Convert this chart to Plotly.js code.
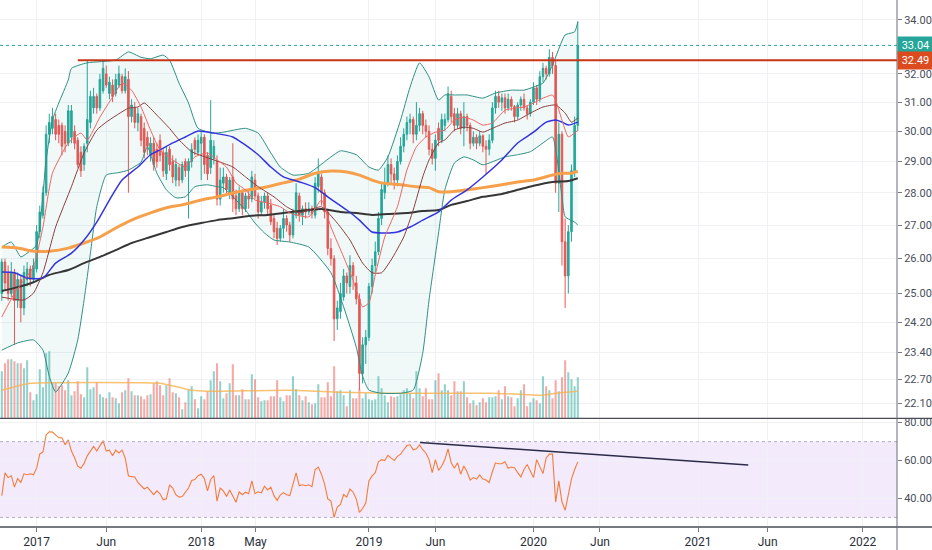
<!DOCTYPE html>
<html><head><meta charset="utf-8">
<script src="https://cdn.plot.ly/plotly-3.0.1.min.js"></script>
<style>html,body{margin:0;padding:0;background:#fff;}#chart{width:932px;height:550px;}</style>
</head><body><div id="chart"></div>
<script>
// ---- weekly bars (first bar week of 2016-10-17) ----
const startDate = '2016-10-17';
const openP = [25.0,25.9,25.6,25.0,25.6,24.8,25.4,24.6,25.4,25.7, 25.4,25.7,26.8,27.3,28.0,29.9,30.1,30.4,30.2,30.2,
 30.0,29.6,29.8,30.0,29.7,29.3,28.9,29.6,30.3,30.8, 31.2,30.8,31.4,32.0,31.3,31.6,31.3,31.6,31.9,31.4,
 31.8,30.5,30.8,30.3,30.5,30.1,29.8,29.2,29.6,29.4, 29.7,29.3,28.6,29.4,29.0,28.4,28.8,28.4,29.0,28.7,
 29.0,29.7,29.3,29.6,29.8,29.2,28.8,29.1,29.0,27.8, 28.3,28.5,28.0,28.5,27.9,27.5,28.0,27.5,27.9,27.8,
 28.4,27.9,27.4,27.7,27.9,27.6,27.2,26.9,26.6,26.9, 27.2,27.0,26.7,27.3,27.9,27.3,27.5,27.4,27.5,27.3,
 28.2,28.5,28.0,27.4,26.3,26.0,24.3,24.5,24.9,25.5, 25.2,25.8,25.3,24.85,22.85,23.6,23.8,25.2,25.8,26.2,
 27.2,28.0,28.3,28.9,28.6,28.4,29.0,29.5,29.9,30.3, 30.4,29.9,30.2,30.6,30.2,30.0,29.4,29.1,30.1,29.7,
 30.2,30.4,31.2,30.6,30.2,30.6,30.1,30.5,30.2,29.6, 29.8,29.6,29.85,29.5,29.4,29.7,30.8,31.2,31.0,31.15,
 30.8,31.1,30.85,30.5,30.9,31.1,30.8,30.6,31.0,31.5, 31.1,31.9,32.2,32.0,32.6,32.3,28.3,29.9,26.5,25.5,
 26.8,28.7,30.2];
const highP = [26.0,26.0,25.8,25.9,25.7,25.6,25.5,25.8,25.9,25.8, 26.0,27.0,27.6,28.2,30.2,30.6,30.8,30.6,30.4,30.3,
 30.2,30.9,30.9,30.2,29.8,29.5,29.6,32.5,31.4,31.5, 31.3,32.0,32.5,32.3,31.9,31.8,32.0,32.3,32.0,32.2,
 32.1,31.1,31.0,30.8,30.6,30.3,30.0,29.8,29.8,29.6, 29.9,29.4,29.5,29.5,29.2,29.1,28.9,29.0,29.1,29.1,
 29.6,29.8,29.9,30.0,29.9,29.3,31.07,29.7,29.2,28.8, 28.8,28.6,28.5,29.6,28.1,28.2,28.1,28.0,28.1,28.7,
 28.6,28.0,27.9,28.0,28.0,27.8,27.3,27.1,27.0,27.5, 27.3,27.1,27.5,28.3,28.0,27.6,27.7,27.7,27.6,28.5,
 29.1,28.6,28.1,27.5,26.6,26.1,24.8,25.3,25.7,25.6, 26.1,25.9,25.5,25.0,23.8,24.0,25.3,26.0,26.5,27.4,
 28.3,28.8,29.2,29.1,28.8,29.2,29.8,30.1,30.5,30.6, 30.5,31.0,30.8,30.7,30.4,30.2,29.6,29.9,30.3,30.6,
 30.6,31.55,31.4,30.8,30.8,30.7,31.0,30.6,30.3,30.0, 29.9,30.0,29.9,29.7,29.9,31.0,31.4,31.4,31.3,31.3,
 31.3,31.2,30.9,31.0,31.2,31.3,30.9,31.1,31.7,31.6, 32.1,32.4,32.3,32.9,32.8,32.5,30.3,30.0,27.2,27.0,
 28.9,30.5,33.95];
const lowP = [24.8,25.1,24.8,24.9,23.6,24.6,24.2,24.4,25.2,25.2, 25.3,25.6,26.6,27.2,27.9,29.6,29.9,29.7,29.6,29.2,
 29.3,29.5,29.6,29.4,28.8,28.5,28.7,29.3,30.1,30.6, 30.6,30.7,31.3,31.5,31.1,31.0,31.2,31.5,31.3,31.3,
 28.0,30.3,30.1,30.0,29.5,29.1,29.2,29.0,28.7,28.8, 29.0,28.5,28.4,28.7,28.3,28.2,28.2,28.3,28.5,27.2,
 28.8,29.2,29.2,28.4,28.6,28.4,28.6,28.9,27.6,27.6, 28.0,27.9,27.8,27.4,27.3,27.4,27.3,27.4,27.5,27.7,
 27.8,27.2,27.3,27.5,27.3,27.0,26.6,26.4,26.5,26.6, 26.8,26.5,26.6,27.2,27.1,27.0,27.2,27.3,27.2,27.2,
 28.0,27.6,27.2,26.1,25.8,23.7,24.0,24.3,24.8,25.0, 25.0,25.1,24.7,22.43,22.6,23.1,23.7,25.0,25.6,26.1,
 27.0,27.8,28.2,28.3,28.1,28.2,28.9,29.3,29.7,29.9, 29.6,29.7,30.0,29.9,29.8,29.2,28.9,28.7,29.5,29.6,
 30.0,30.3,30.3,30.0,30.1,29.9,29.5,30.0,29.4,29.5, 29.4,29.5,29.3,28.6,29.2,29.6,30.6,30.8,30.7,30.6,
 30.7,30.7,30.3,30.4,30.7,30.7,30.4,30.5,30.9,30.9, 31.0,31.7,31.8,31.9,32.0,28.0,27.4,25.8,24.6,25.0,
 26.5,28.5,30.0];
const closeP = [25.9,25.3,25.0,25.6,24.8,25.4,24.6,25.6,25.7,25.4, 25.8,26.8,27.4,28.0,29.9,30.3,30.5,29.9,29.9,29.5,
 29.6,30.7,30.7,29.6,28.9,28.7,29.5,30.4,31.2,31.2, 30.8,31.8,32.2,31.6,31.7,31.2,31.8,32.0,31.4,31.9,
 30.5,30.9,30.3,30.6,29.7,29.3,29.5,29.6,28.9,29.0, 29.2,28.7,29.3,28.9,28.5,28.9,28.4,28.9,28.7,29.0,
 29.4,29.4,29.7,29.8,28.9,28.6,29.7,29.5,27.8,28.4, 28.5,28.1,28.4,27.8,27.5,28.0,27.5,27.9,27.8,28.5,
 27.9,27.4,27.7,27.9,27.5,27.1,26.8,26.6,26.9,27.2, 27.0,26.7,27.4,28.0,27.3,27.5,27.4,27.5,27.35,28.3,
 28.6,28.0,27.4,26.3,26.0,24.3,24.6,25.0,25.5,25.3, 25.8,25.5,24.85,22.85,23.6,23.8,25.2,25.8,26.2,27.2,
 28.1,28.3,28.9,28.6,28.4,29.0,29.5,29.9,30.3,30.4, 29.9,30.2,30.6,30.2,30.0,29.4,29.1,29.7,29.7,30.4,
 30.4,31.3,30.5,30.2,30.6,30.1,30.5,30.2,29.6,29.8, 29.6,29.85,29.5,29.4,29.7,30.8,31.2,31.0,31.15,30.8,
 31.1,30.85,30.5,30.9,31.1,30.8,30.6,31.0,31.5,31.1, 31.9,32.2,32.0,32.6,32.3,28.3,29.9,26.5,25.5,26.8,
 28.7,30.2,33.04];
const volume = [4.7,5.5,5.9,5.9,5.7,5.5,5.5,5.0,5.8,2.6, 1.8,2.4,4.9,3.1,6.5,6.7,3.5,3.5,3.2,3.3,
 2.8,3.8,2.3,2.7,3.7,2.4,2.1,5.1,2.9,3.1, 3.6,2.4,2.1,2.0,2.6,2.1,2.0,1.5,2.6,2.8,
 4.0,2.7,2.3,2.3,2.2,1.9,2.3,2.4,3.5,3.7, 3.3,2.3,3.3,4.0,2.6,2.5,2.1,0.9,1.6,2.9,
 3.2,1.9,1.0,2.2,1.9,2.7,3.8,4.7,5.5,3.7, 2.0,2.5,3.5,5.4,2.3,2.3,2.9,1.9,1.9,4.4,
 3.9,2.1,1.7,1.8,1.8,2.2,2.2,3.8,2.1,1.7, 2.3,2.3,4.2,2.9,2.3,1.8,2.2,1.6,1.4,1.5,
 3.4,2.1,2.1,3.6,2.2,5.2,2.7,2.8,2.3,1.2, 2.8,2.0,2.0,2.9,2.0,2.5,1.9,1.8,1.9,4.2,
 3.0,2.3,1.6,2.2,2.1,2.2,2.4,2.8,3.0,2.5, 2.0,4.7,3.0,2.2,3.0,1.9,1.9,3.8,4.5,2.8,
 3.4,2.8,2.3,3.7,2.7,2.7,3.7,2.1,1.5,1.8, 1.3,1.6,2.0,1.6,2.1,2.1,2.2,2.8,1.9,3.2,
 2.2,2.1,1.2,2.0,2.8,3.4,1.2,1.6,2.0,1.8, 1.5,4.2,3.2,2.8,2.0,3.8,2.7,4.1,5.8,4.6,
 3.9,3.2,4.1];
const rsi = [41.5,53.5,51,52,46,50.5,48.5,53,52.5,53, 52.5,56,63.5,64.5,73.5,75.2,75,73.5,72,72,
 68.3,70.9,65,61.5,57,55.9,58.5,62.5,65,67.4, 65,67.6,70.5,65,65.5,62.5,65.5,64,65.5,61.3,
 52,51.5,51.3,48.5,46.5,45,46,44,42,44, 42.5,39.3,39.8,47.2,45.5,42,40.7,41,43.5,45.5,
 49.5,50,52,52.8,50.5,44,50,52,38.6,45.5, 44,41,44.5,41.5,38,43.5,42,43.3,42.5,49.3,
 42.5,43.5,43,46.5,44.5,46,41.5,39,41.8,43.1, 42,41.5,48,53.5,46.7,47.2,46.7,47.2,46.2,55.3,
 56.6,52.8,47.6,39.8,38.6,30,35.5,36.9,42.1,40.7, 45,43.3,39.8,32.6,34.7,37.6,49.3,51.9,53.6,59.3,
 60.5,60,62.8,61.4,60,62.2,63.4,65.7,67.9,68.3, 65.7,66.2,68.3,65.7,64,60.5,53.6,60.5,54.8,57.1,
 60.5,66.2,58.8,55.9,58.8,52.8,57.1,54.1,49.7,51, 50.2,52.4,50.2,49.7,48.4,54.1,58.8,58.3,58.3,59.3,
 55.9,56.6,56.2,53.6,51.4,55.3,57.9,54.5,51,60.5, 56.6,53.1,61.4,63.4,63.4,38.1,49.3,38.1,33.8,41.5,
 50.2,55.3,59.3];

// ---- indicator lines (bar index, value) ----
const bbUpIdx = [0,3,6,8,11,14,16,18,21,22,27,36,40,44,47,51,53,56,59,62,67,70,77,81,85,88,92,97,104,107,112,116,119,122,126,129,132,135,138,140,143,147,152,156,161,165,168,171,174,178,181,182];
const bbUpVal = [26.34,26.49,26.05,26.16,26.40,29.05,30.38,30.97,31.78,32.2,32.4,32.5,32.8,32.6,32.55,32.68,32.5,31.67,30.97,30.1,29.94,29.97,30.1,29.94,29.28,28.82,28.56,28.62,29.15,29.35,29.22,28.82,28.72,29.15,30.38,31.53,32.4,31.89,31.07,31.25,31.25,31.25,31.14,31.32,31.42,31.42,31.53,31.67,32.32,33.43,33.55,33.92];
const bbLoIdx = [0,5,10,13,15,17,21,24,26,28,30,33,37,40,44,46,49,52,55,58,61,65,68,70,74,77,80,83,86,91,97,104,108,112,114,116,120,126,130,133,135,138,140,143,146,149,152,159,163,167,171,174,177,178,181,182];
const bbLoVal = [23.46,23.65,23.73,23.46,22.78,22.38,22.86,23.73,24.82,26.16,27.56,28.56,28.64,28.72,28.98,29.48,28.62,28.09,27.84,27.87,28.19,28.25,28.19,28.16,27.77,27.46,27.06,26.76,26.55,26.49,26.34,25.59,24.63,23.54,22.78,22.43,22.35,22.35,22.43,23.38,24.82,26.76,28.09,28.95,29.15,29.05,28.89,29.15,29.22,29.32,29.61,29.81,27.87,27.25,27.09,27.0];
const bbMidIdx = [0,7,10,13,17,22,26,30,33,40,43,45,49,53,56,60,65,69,73,77,81,86,90,94,97,101,106,110,114,117,120,123,127,130,133,135,138,140,143,146,149,152,155,159,163,167,171,175,178,180,182];
const bbMidVal = [24.9,24.82,25.01,25.59,26.94,28.19,29.28,30.04,30.31,30.79,30.83,30.97,30.55,30.1,29.71,29.32,29.12,28.98,28.82,28.5,28.19,27.87,27.56,27.37,27.46,27.56,27.06,26.55,25.87,25.59,25.59,25.96,26.64,27.46,28.5,29.05,29.61,29.71,30.04,30.14,30.1,29.97,30.1,30.28,30.38,30.62,30.83,30.9,30.62,30.31,30.45];
const fastIdx = [0,4,7,10,13,16,21,25,27,31,35,38,41,44,47,50,54,58,61,65,68,71,74,77,80,84,88,91,97,101,104,108,111,114,116,118,121,125,128,131,134,137,140,143,146,149,152,155,159,162,165,168,171,174,175,177,179,181,182];
const fastVal = [24.35,25.01,25.38,25.76,26.94,28.62,29.61,29.94,29.71,30.48,31.18,31.67,31.42,30.83,30.04,29.38,29.05,28.82,29.15,29.28,29.05,28.82,28.31,28.09,27.77,27.68,27.56,27.37,27.25,27.77,26.94,26.05,25.38,24.63,24.74,25.53,26.64,27.56,28.72,29.48,29.81,29.97,30.04,30.38,30.48,30.38,30.21,30.28,30.72,30.79,30.83,30.97,31.14,31.25,31.07,30.38,29.81,29.94,30.04];
const blueIdx = [0,4,8,13,17,22,26,30,34,38,43,47,50,54,58,62,67,73,76,81,85,89,92,95,99,103,109,113,117,120,125,129,133,138,142,147,152,158,163,168,172,175,177,179,182];
const blueVal = [25.61,25.59,25.44,25.44,25.87,26.16,26.55,27.09,27.77,28.4,28.82,29.22,29.38,29.61,29.81,30.01,29.94,29.81,29.61,29.22,28.82,28.5,28.4,28.31,28.16,27.87,27.46,27.15,26.79,26.76,26.79,26.94,27.15,27.4,27.77,28.09,28.5,29.05,29.61,29.97,30.31,30.38,30.31,30.21,30.31];
const orangeIdx = [0,5,10,15,21,26,31,36,41,47,52,57,63,68,73,78,84,89,94,99,104,109,113,117,120,126,131,135,138,142,147,152,158,163,168,174,177,180,182];
const orangeVal = [26.34,26.31,26.22,26.22,26.31,26.46,26.64,26.91,27.15,27.37,27.53,27.62,27.77,27.87,27.99,28.09,28.19,28.31,28.43,28.62,28.69,28.66,28.56,28.4,28.31,28.25,28.19,28.16,28.03,28.03,28.09,28.16,28.25,28.34,28.4,28.56,28.62,28.62,28.69];
const blackIdx = [0,5,10,15,21,26,31,36,41,47,52,57,63,68,73,78,84,89,94,101,107,112,117,122,128,133,138,142,147,152,158,163,168,174,179,182];
const blackVal = [25.07,25.18,25.32,25.53,25.67,25.87,26.05,26.25,26.46,26.64,26.79,26.94,27.06,27.15,27.21,27.28,27.31,27.37,27.43,27.49,27.4,27.37,27.31,27.34,27.37,27.43,27.46,27.62,27.74,27.87,27.96,28.09,28.22,28.34,28.37,28.46];
const volMaIdx = [0,6,9,50,53,56,60,65,91,107,122,138,154,164,171,175,182];
const volMaVal = [2.8,3.3,3.5,3.5,3.3,3.1,2.8,2.7,2.8,2.6,2.5,2.5,2.5,2.4,2.3,2.5,2.7];

// ---- drawn levels ----
const lastPrice = 33.04;
const resistance = 32.49;
const resX = ['2017-04-03', '2022-12-31'];
const trendX = ['2019-04-30', '2021-04-25'];
const trendY = [69.5, 57.7];

const tickDates = ['2017-01-02','2017-06-05','2018-01-01','2018-05-01','2019-01-07','2019-06-03','2020-01-06','2020-06-01','2021-01-04','2021-06-07','2022-01-03'];
const tickText = ['2017','Jun','2018','May','2019','Jun','2020','Jun','2021','Jun','2022'];
const priceTicks = [22.1,22.7,23.4,24.2,25,26,27,28,29,30,31,32,34];
const rsiTicks = [40,60,80];

// weekly dates
const dates = [];
{
  const d0 = new Date(startDate + 'T00:00:00Z');
  for (let i = 0; i < closeP.length; i++) {
    const d = new Date(d0.getTime() + i * 7 * 86400000);
    dates.push(d.toISOString().slice(0, 10));
  }
}
const pick = idx => idx.map(i => dates[i]);

const UP = '#26a69a', DN = '#ef5350';
const volColors = closeP.map((c, i) => c >= openP[i] ? 'rgba(38,166,154,0.5)' : 'rgba(239,83,80,0.5)');

const traces = [
  {type:'bar', x:dates, y:volume, marker:{color:volColors, line:{width:0}}, xaxis:'x', yaxis:'y', hoverinfo:'skip'},
  {type:'scatter', mode:'lines', x:pick(volMaIdx), y:volMaVal, line:{color:'rgba(247,178,80,0.8)', width:1.5, shape:'spline', smoothing:0.6}, xaxis:'x', yaxis:'y'},
  {type:'scatter', mode:'lines', x:pick(bbLoIdx), y:bbLoVal, line:{color:'#2f8f83', width:1, shape:'spline', smoothing:0.5}, xaxis:'x', yaxis:'y2'},
  {type:'scatter', mode:'lines', x:pick(bbUpIdx), y:bbUpVal, line:{color:'#2f8f83', width:1, shape:'spline', smoothing:0.5}, fill:'tonexty', fillcolor:'rgba(38,166,154,0.07)', xaxis:'x', yaxis:'y2'},
  {type:'candlestick', x:dates, open:openP, high:highP, low:lowP, close:closeP, xaxis:'x', yaxis:'y2',
   increasing:{line:{color:UP, width:1}, fillcolor:UP}, decreasing:{line:{color:DN, width:1}, fillcolor:DN}, whiskerwidth:0, hoverinfo:'skip'},
  {type:'scatter', mode:'lines', x:pick(blackIdx), y:blackVal, line:{color:'#363636', width:2, shape:'spline', smoothing:0.6}, xaxis:'x', yaxis:'y2'},
  {type:'scatter', mode:'lines', x:pick(orangeIdx), y:orangeVal, line:{color:'#f7a04b', width:3, shape:'spline', smoothing:0.6}, xaxis:'x', yaxis:'y2'},
  {type:'scatter', mode:'lines', x:pick(blueIdx), y:blueVal, line:{color:'#3434dc', width:1.5, shape:'spline', smoothing:0.6}, xaxis:'x', yaxis:'y2'},
  {type:'scatter', mode:'lines', x:pick(bbMidIdx), y:bbMidVal, line:{color:'#8b3d3d', width:1, shape:'spline', smoothing:0.5}, xaxis:'x', yaxis:'y2'},
  {type:'scatter', mode:'lines', x:pick(fastIdx), y:fastVal, line:{color:'#f06464', width:1, shape:'spline', smoothing:0.5}, xaxis:'x', yaxis:'y2'},
  {type:'scatter', mode:'lines', x:resX, y:[resistance, resistance], line:{color:'#c8361a', width:2}, xaxis:'x', yaxis:'y2'},
  {type:'scatter', mode:'lines', x:dates, y:rsi, line:{color:'#f57c3a', width:1.1}, xaxis:'x', yaxis:'y3'},
  {type:'scatter', mode:'lines', x:trendX, y:trendY, line:{color:'#2b2b48', width:1.5}, xaxis:'x', yaxis:'y3'}
];

const split = 0.2063;
const rightExt = 932 / 897;
const font = {family:'Roboto, "DejaVu Sans", sans-serif'};
const layout = {
  width:932, height:550,
  margin:{l:0, r:35, t:0, b:23, pad:0},
  paper_bgcolor:'#ffffff', plot_bgcolor:'#ffffff',
  showlegend:false, hovermode:false, dragmode:false,
  bargap:0.35, font:font,
  xaxis:{type:'date', range:['2016-10-13','2022-03-20'], anchor:'y3',
    tickmode:'array', tickvals:tickDates, ticktext:tickText,
    showgrid:true, gridcolor:'#eff1f5', gridwidth:1, zeroline:false, showline:false,
    ticks:'outside', ticklen:4, tickcolor:'#787b86',
    tickfont:{size:12, color:'#2a2e39', family:font.family},
    rangeslider:{visible:false}, fixedrange:true},
  yaxis:{domain:[split, 1], range:[0, 41.83], visible:false, showgrid:false, zeroline:false, fixedrange:true},
  yaxis2:{overlaying:'y', side:'right', anchor:'x', type:'log',
    range:[Math.log10(21.73), Math.log10(34.77)],
    tickmode:'array', tickvals:priceTicks, ticktext:priceTicks.map(v => v.toFixed(2)),
    showgrid:true, gridcolor:'#eff1f5', zeroline:false, showline:false,
    ticks:'outside', ticklen:4, tickcolor:'#787b86',
    tickfont:{size:11, color:'#4a4e59', family:font.family}, fixedrange:true},
  yaxis3:{domain:[0, split], side:'right', anchor:'x', range:[24.95, 82.3],
    tickmode:'array', tickvals:rsiTicks, ticktext:rsiTicks.map(v => v.toFixed(2)),
    showgrid:true, gridcolor:'#eff1f5', zeroline:false, showline:false,
    ticks:'outside', ticklen:4, tickcolor:'#787b86',
    tickfont:{size:11, color:'#4a4e59', family:font.family}, fixedrange:true},
  shapes:[
    {type:'rect', xref:'paper', x0:0, x1:1, yref:'y3', y0:30, y1:70, fillcolor:'rgba(155,81,224,0.12)', line:{width:0}, layer:'below'},
    {type:'line', xref:'paper', x0:0, x1:1, yref:'y3', y0:70, y1:70, line:{color:'#b4aec4', width:1, dash:'3px,3px'}},
    {type:'line', xref:'paper', x0:0, x1:1, yref:'y3', y0:30, y1:30, line:{color:'#b4aec4', width:1, dash:'3px,3px'}},
    {type:'line', xref:'paper', x0:0, x1:1, yref:'y2', y0:lastPrice, y1:lastPrice, line:{color:'#26a69a', width:1, dash:'dot'}},
    {type:'line', xref:'paper', x0:0, x1:rightExt, yref:'paper', y0:split, y1:split, line:{color:'#4a4d57', width:1.3}},
    {type:'line', xref:'paper', x0:0, x1:rightExt, yref:'paper', y0:0, y1:0, line:{color:'#4a4d57', width:1.3}},
    {type:'line', xref:'paper', x0:1, x1:1, yref:'paper', y0:-0.05, y1:1, line:{color:'#6a6d78', width:1}}
  ],
  annotations:[
    {xref:'paper', x:1, xanchor:'left', yref:'y2', y:Math.log10(lastPrice), yanchor:'middle',
     text:lastPrice.toFixed(2), showarrow:false, bgcolor:'#26a69a', font:{color:'#ffffff', size:11, family:font.family}, width:31, borderpad:2},
    {xref:'paper', x:1, xanchor:'left', yref:'y2', y:Math.log10(resistance), yanchor:'middle',
     text:resistance.toFixed(2), showarrow:false, bgcolor:'#dc4a1f', font:{color:'#ffffff', size:11, family:font.family}, width:31, borderpad:2}
  ]
};

Plotly.newPlot('chart', traces, layout, {staticPlot:true, displayModeBar:false});
</script>
</body></html>
